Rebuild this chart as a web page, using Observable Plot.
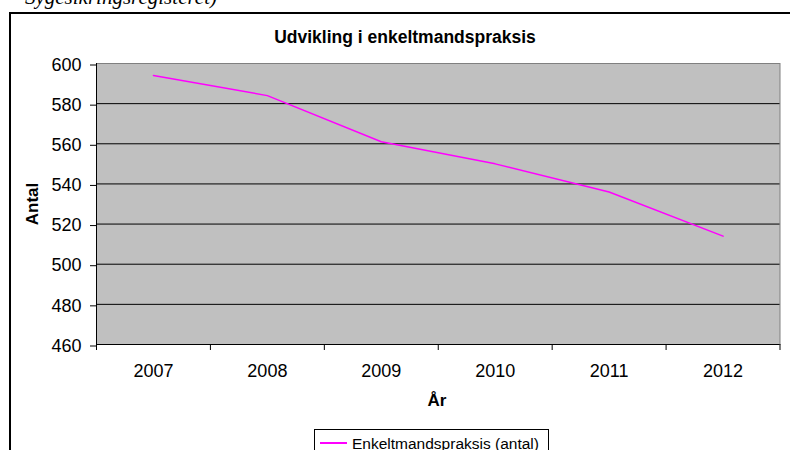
<!DOCTYPE html>
<html><head><meta charset="utf-8">
<script src="https://cdn.jsdelivr.net/npm/d3@7"></script>
<script src="https://cdn.jsdelivr.net/npm/@observablehq/plot@0.6"></script>
<style>
body{margin:0;background:#fff;}
#wrap{position:relative;width:790px;height:450px;overflow:hidden;font-family:"Liberation Sans",Arial,sans-serif;color:#000;}
#chart{position:absolute;left:0;top:0;}
.t{position:absolute;white-space:nowrap;line-height:1;}
#src{font-family:"Liberation Serif","Times New Roman",serif;font-style:italic;font-size:21px;right:573px;top:-13px;}
#box{position:absolute;left:9px;top:12px;width:800px;height:460px;border-left:2px solid #000;border-top:2px solid #000;}
#title{font-weight:bold;font-size:17.5px;left:405px;top:28.5px;transform:translateX(-50%);}
#xlab{font-weight:bold;font-size:17px;left:437px;top:392.3px;transform:translateX(-50%);}
#ylab{font-weight:bold;font-size:17px;left:31.5px;top:204px;transform:translate(-50%,-50%) rotate(-90deg);}
#legend{position:absolute;left:314px;top:429px;width:233px;height:40px;border:1px solid #000;background:#fff;}
#legend .sw{position:absolute;left:5px;top:12px;width:27px;height:0;border-top:2px solid #ff00ff;}
#legend .lt{position:absolute;left:37px;top:5.5px;font-size:15.5px;line-height:1;white-space:nowrap;}
</style></head><body>
<div id="wrap">
<div class="t" id="src">Sygesikringsregisteret)</div>
<div id="box"></div>
<div id="chart"></div>
<div class="t" id="title">Udvikling i enkeltmandspraksis</div>
<div class="t" id="ylab">Antal</div>
<div class="t" id="xlab">År</div>
<div id="legend"><span class="sw"></span><span class="lt">Enkeltmandspraksis (antal)</span></div>
</div>
<script>
const years = [2007, 2008, 2009, 2010, 2011, 2012];
const values = [594, 584, 561, 550, 536, 514];
const yTicks = [460, 480, 500, 520, 540, 560, 580, 600];
const seriesName = "Enkeltmandspraksis (antal)";

const data = years.map((y, i) => ({year: y, value: values[i]}));
const bounds = years.map(y => y - 0.5).concat([years[years.length - 1] + 0.5]);

const chart = Plot.plot({
  width: 790,
  height: 450,
  marginLeft: 96,
  marginRight: 10.5,
  marginTop: 63,
  marginBottom: 106,
  style: {fontFamily: "'Liberation Sans', Arial, sans-serif", fontSize: "18px", background: "transparent", color: "#000", overflow: "visible"},
  x: {domain: [bounds[0], bounds[bounds.length - 1]]},
  y: {domain: [yTicks[0], yTicks[yTicks.length - 1]]},
  marks: [
    Plot.frame({fill: "#c0c0c0", stroke: "#808080"}),
    Plot.gridY(yTicks.slice(1, -1), {stroke: "#000", strokeOpacity: 1}),
    Plot.ruleX([bounds[0]], {stroke: "#000"}),
    Plot.ruleY([yTicks[0]], {stroke: "#000"}),
    Plot.line(data, {x: "year", y: "value", stroke: "#ff00ff", strokeWidth: 1.5}),
    Plot.axisY({ticks: yTicks, tickSize: 6, tickPadding: 9, fontSize: 18, label: null, dy: 1.5, tickFormat: d => String(d)}),
    Plot.axisX({ticks: bounds, tickSize: 6, tickFormat: () => "", label: null}),
    Plot.axisX({ticks: years, tickSize: 0, tickPadding: 20, fontSize: 18, label: null, tickFormat: d => String(d)})
  ]
});
document.getElementById("chart").appendChild(chart);
</script>
</body></html>
